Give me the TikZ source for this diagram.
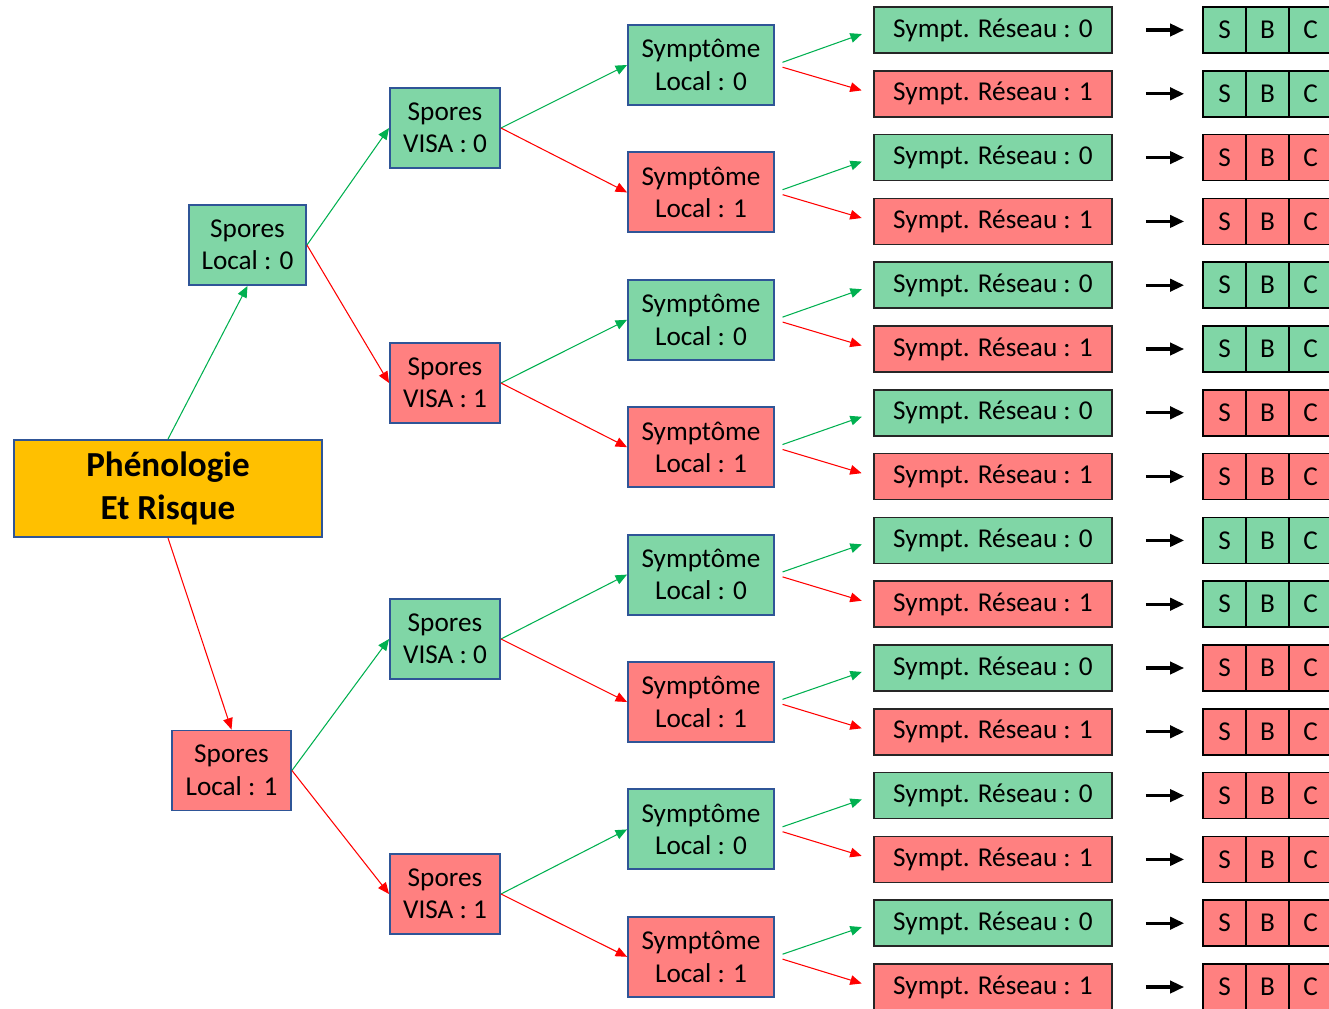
\documentclass[tikz,border=0pt]{standalone}
\usepackage{fontspec}
\setmainfont{Carlito}
\usetikzlibrary{arrows.meta, calc}
\definecolor{vert}{RGB}{128,214,166}
\definecolor{rouge}{RGB}{255,128,128}
\definecolor{jaune}{RGB}{255,192,0}
\definecolor{bordure}{RGB}{47,85,151}
\definecolor{flvert}{RGB}{0,176,80}
\definecolor{flrouge}{RGB}{255,0,0}
\tikzset{
  noeud/.style={draw=bordure, line width=1.1pt, align=center, minimum height=1.6cm,
    inner sep=0pt, font=\fontsize{15.5}{18.5}\selectfont},
  racine/.style={noeud, fill=jaune, minimum width=6.16cm, minimum height=1.94cm,
    font=\fontsize{20}{24}\bfseries\selectfont},
  reseau/.style={draw=black!85, line width=1pt, minimum width=4.76cm, minimum height=0.92cm,
    inner sep=0pt, font=\fontsize{15.5}{18.5}\selectfont},
  cellule/.style={draw=black, line width=1pt, minimum width=0.86cm, minimum height=0.92cm,
    inner sep=0pt, font=\fontsize{15.5}{18.5}\selectfont},
  arc/.style={line width=0.6pt, -{Triangle[length=6.5pt,width=5.5pt]}},
  noir/.style={line width=1.8pt, -{Triangle[length=8pt,width=7pt]},
    shorten <=0.66cm, shorten >=0.36cm}
}
\begin{document}
\begin{tikzpicture}[x=0.02cm, y=-0.02cm]
\useasboundingbox (0,0) rectangle (1329,1008);
% racine
\node[racine] (R) at (168,488.5) {Phénologie\\Et Risque};
\node[noeud, fill=vert, minimum width=2.34cm] (L0) at (247.5,245) {Spores\\Local : 0};
\node[noeud, fill=rouge, minimum width=2.38cm] (L1) at (231.5,770.5) {Spores\\Local : 1};
\draw[arc, flvert] (R.north) -- (L0.south);
\draw[arc, flrouge] (R.south) -- (L1.north);
% spores VISA
\foreach \i/\y/\v/\f/\a/\p in {1/128/0/vert/flvert/L0, 2/383/1/rouge/flrouge/L0,
    3/639/0/vert/flvert/L1, 4/894/1/rouge/flrouge/L1} {
  \node[noeud, fill=\f, minimum width=2.2cm] (V\i) at (445,\y) {Spores\\VISA : \v};
  \draw[arc, \a] (\p.east) -- (V\i.west);
}
% symptome local
\foreach \j/\v/\f/\a/\p in {1/0/vert/flvert/V1, 2/1/rouge/flrouge/V1, 3/0/vert/flvert/V2,
    4/1/rouge/flrouge/V2, 5/0/vert/flvert/V3, 6/1/rouge/flrouge/V3,
    7/0/vert/flvert/V4, 8/1/rouge/flrouge/V4} {
  \pgfmathsetmacro{\yy}{65+(\j-1)*127.4}
  \node[noeud, fill=\f, minimum width=2.92cm] (M\j) at (701,\yy) {Symptôme\\Local : \v};
  \draw[arc, \a] (\p.east) -- (M\j.west);
}
% sympt. reseau et S B C
\foreach \k/\j/\v/\f/\a/\c in {1/1/0/vert/flvert/vert, 2/1/1/rouge/flrouge/vert,
    3/2/0/vert/flvert/rouge, 4/2/1/rouge/flrouge/rouge,
    5/3/0/vert/flvert/vert, 6/3/1/rouge/flrouge/vert,
    7/4/0/vert/flvert/rouge, 8/4/1/rouge/flrouge/rouge,
    9/5/0/vert/flvert/vert, 10/5/1/rouge/flrouge/vert,
    11/6/0/vert/flvert/rouge, 12/6/1/rouge/flrouge/rouge,
    13/7/0/vert/flvert/rouge, 14/7/1/rouge/flrouge/rouge,
    15/8/0/vert/flvert/rouge, 16/8/1/rouge/flrouge/rouge} {
  \pgfmathsetmacro{\yy}{30+(\k-1)*63.8}
  \node[reseau, fill=\f] (N\k) at (993,\yy) {Sympt. Réseau : \v};
  \node[cellule, fill=\c] (S\k) at (1224.5,\yy) {S};
  \node[cellule, fill=\c] (B\k) at (1267.5,\yy) {B};
  \node[cellule, fill=\c] (C\k) at (1310.5,\yy) {C};
  \draw[arc, \a, shorten <=0.16cm, shorten >=0.24cm] (M\j.east) -- (N\k.west);
  \draw[noir] (N\k.east) -- (S\k.west);
}
\end{tikzpicture}
\end{document}
